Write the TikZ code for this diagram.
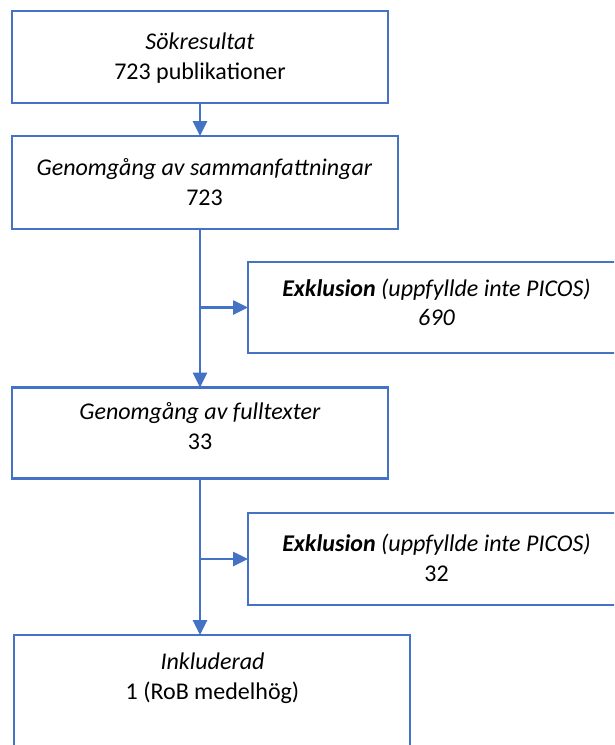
\documentclass[tikz,border=0pt]{standalone}
\usepackage{fontspec}
\setmainfont{Carlito}
\usetikzlibrary{arrows.meta}
\definecolor{officeblue}{HTML}{4472C4}
\tikzset{
  flowbox/.style={draw=officeblue, line width=2.6pt, rectangle, inner sep=0pt, outer sep=0pt},
  flowtext/.style={anchor=base, align=center, inner sep=0pt, font=\fontsize{24}{29.5}\selectfont},
  flowarrow/.style={draw=officeblue, line width=2.6pt, -{Triangle[length=15pt,width=14pt]}},
  flowline/.style={draw=officeblue, line width=2.6pt}
}
\begin{document}
\begin{tikzpicture}[x=1pt,y=-1pt]
\useasboundingbox (0,0) rectangle (614,745);
\clip (0,0) rectangle (614,745);
% boxes
\node[flowbox, minimum width=376pt, minimum height=92pt] (b1) at (200,57) {};
\node[flowbox, minimum width=386pt, minimum height=93pt] (b2) at (205,182.5) {};
\node[flowbox, minimum width=377pt, minimum height=91pt] (e1) at (436.5,307.5) {};
\node[flowbox, minimum width=376pt, minimum height=91pt] (b3) at (200,433) {};
\node[flowbox, minimum width=377pt, minimum height=92pt] (e2) at (436.5,559) {};
\node[flowbox, minimum width=396pt, minimum height=130pt] (b4) at (212,700) {};
% texts (anchor = baseline of last line)
\node[flowtext] (t1) at (200,79.3) {\textit{Sökresultat}\\723 publikationer};
\node[flowtext] (t2) at (204.5,205) {\textit{Genomgång av sammanfattningar}\\723};
\node[flowtext] (t3) at (436.5,325.5) {\textbf{\textit{Exklusion}} \textit{(uppfyllde inte PICOS)}\\\textit{690}};
\node[flowtext] (t4) at (200,449.3) {\textit{Genomgång av fulltexter}\\33};
\node[flowtext] (t5) at (436.5,581) {\textbf{\textit{Exklusion}} \textit{(uppfyllde inte PICOS)}\\32};
\node[flowtext] (t6) at (212.5,699) {\textit{Inkluderad}\\1 (RoB medelhög)};
% connectors
\coordinate (col) at (200,0);
\coordinate (j1) at (e1.west -| col);
\coordinate (j2) at (e2.west -| col);
\draw[flowarrow] (b1.south -| col) -- (b2.north -| col);
\draw[flowarrow] (b2.south -| col) -- (b3.north -| col);
\draw[flowarrow] (j1) -- (e1.west);
\draw[flowarrow] (b3.south -| col) -- (b4.north -| col);
\draw[flowarrow] (j2) -- (e2.west);
\end{tikzpicture}
\end{document}
